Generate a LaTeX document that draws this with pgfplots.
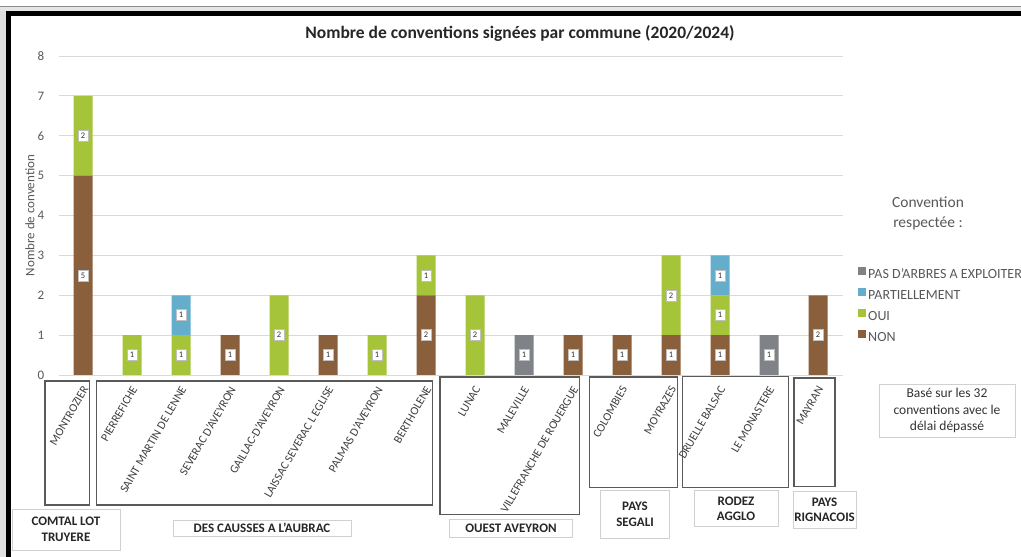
\documentclass[border=0pt]{standalone}
\usepackage{pgfplots}
\pgfplotsset{compat=1.18}
\usepackage{fontspec}
\setmainfont{Carlito}
\definecolor{cNON}{HTML}{8A5F3B}
\definecolor{cOUI}{HTML}{A5C439}
\definecolor{cPART}{HTML}{65AECB}
\definecolor{cPAS}{HTML}{7F8286}
\definecolor{txt}{HTML}{595959}
\definecolor{gridc}{HTML}{D9D9D9}
\definecolor{boxd}{HTML}{5A5A5A}
\definecolor{boxl}{HTML}{D0D0D0}
\newcommand\fs[2]{\fontsize{#1}{#2}\selectfont}
\begin{document}
\begin{tikzpicture}
\useasboundingbox (0pt,0pt) rectangle (1021pt,557pt);
\fill[white] (0pt,0pt) rectangle (1021pt,557pt);
% screen frame
\fill[black!12] (0pt,0pt) rectangle (6pt,546pt);
\fill[black!10] (0pt,546pt) rectangle (1021pt,550pt);
\draw[black!45, line width=1pt] (0pt,550pt) -- (1021pt,550pt);
\fill[black] (6pt,0pt) rectangle (11pt,546pt);
\fill[black] (6pt,541pt) rectangle (1021pt,546pt);

\begin{axis}[
  at={(58.5pt,182pt)}, anchor=south west,
  scale only axis, width=784pt, height=319pt,
  xmin=-0.5, xmax=15.5, ymin=0, ymax=8,
  ybar stacked, bar width=19pt,
  axis line style={draw=none},
  major tick length=0pt,
  ytick={0,...,8},
  ymajorgrids, grid style={gridc, line width=0.9pt},
  yticklabel style={font=\fs{13}{15}, text=txt, anchor=east, inner sep=0pt, xshift=-14pt},
  /pgf/number format/assume math mode=true,
  xtick={0,...,15},
  xticklabels={MONTROZIER, PIERREFICHE, SAINT MARTIN DE LENNE, SEVERAC D'AVEYRON, GAILLAC-D'AVEYRON, LAISSAC SEVERAC L EGLISE, PALMAS D'AVEYRON, BERTHOLENE, LUNAC, MALEVILLE, VILLEFRANCHE DE ROUERGUE, COLOMBIES, MOYRAZES, DRUELLE BALSAC, LE MONASTERE, MAYRAN},
  xticklabel style={xshift=-1pt, yshift=-10pt, rotate=60, anchor=north east, inner sep=0pt, font=\fs{11.8}{13}, text=black!75},
  ylabel={Nombre de convention},
  every axis y label/.style={at={(axis description cs:-0.0364,0.5)}, rotate=90, anchor=center, font=\fs{13}{15}, text=txt},
  reverse legend,
  legend style={draw=none, fill=none, at={(axis description cs:1.0198,0.341)}, anchor=north west, font=\fs{14}{16}, text=txt, row sep=6.3pt, inner sep=0pt, cells={anchor=west}},
  legend image code/.code={\fill[#1] (0pt,-0.5pt) rectangle (8pt,7.5pt);},
  clip=false,
]
\addplot[fill=cNON, draw=none] coordinates {(0,5) (1,0) (2,0) (3,1) (4,0) (5,1) (6,0) (7,2) (8,0) (9,0) (10,1) (11,1) (12,1) (13,1) (14,0) (15,2)};
\addlegendentry{NON}
\addplot[fill=cOUI, draw=none] coordinates {(0,2) (1,1) (2,1) (3,0) (4,2) (5,0) (6,1) (7,1) (8,2) (9,0) (10,0) (11,0) (12,2) (13,1) (14,0) (15,0)};
\addlegendentry{OUI}
\addplot[fill=cPART, draw=none] coordinates {(0,0) (1,0) (2,1) (3,0) (4,0) (5,0) (6,0) (7,0) (8,0) (9,0) (10,0) (11,0) (12,0) (13,1) (14,0) (15,0)};
\addlegendentry{PARTIELLEMENT}
\addplot[fill=cPAS, draw=none] coordinates {(0,0) (1,0) (2,0) (3,0) (4,0) (5,0) (6,0) (7,0) (8,0) (9,1) (10,0) (11,0) (12,0) (13,0) (14,1) (15,0)};
\addlegendentry{PAS D'ARBRES A EXPLOITER}
\end{axis}

\begin{axis}[
  at={(58.5pt,182pt)}, anchor=south west,
  scale only axis, width=784pt, height=319pt,
  xmin=-0.5, xmax=15.5, ymin=0, ymax=8,
  hide axis, clip=false,
  nodes near coords, point meta=explicit symbolic,
  nodes near coords align={anchor=center},
  every node near coord/.style={anchor=center, fill=white, draw=black!25, line width=0.4pt, inner sep=0pt, font=\fs{8.5}{9}, text=black!80, minimum width=9.5pt, minimum height=11pt},
]
\addplot[only marks, mark=none] coordinates {
(0,2.5)[5] (0,6)[2]
(1,0.5)[1]
(2,0.5)[1] (2,1.5)[1]
(3,0.5)[1]
(4,1)[2]
(5,0.5)[1]
(6,0.5)[1]
(7,1)[2] (7,2.5)[1]
(8,1)[2]
(9,0.5)[1]
(10,0.5)[1]
(11,0.5)[1]
(12,0.5)[1] (12,2)[2]
(13,0.5)[1] (13,1.5)[1] (13,2.5)[1]
(14,0.5)[1]
(15,1)[2]
};
\end{axis}

% title
\node[font=\bfseries\fs{17.5}{20}, text=black!85] at (520pt,524pt) {Nombre de conventions signées par commune (2020/2024)};
% legend title
\node[font=\fs{15.5}{20}, text=txt, align=center] at (928pt,344pt) {Convention\\respectée :};

% label group boxes
\begin{scope}[draw=boxd, line width=1.2pt]
\draw (45pt,176pt) rectangle (89.3pt,52pt);
\draw (96.7pt,176pt) rectangle (432.7pt,52pt);
\draw (440pt,180pt) rectangle (579.3pt,42.7pt);
\draw (589.3pt,180pt) rectangle (677.3pt,69.7pt);
\draw (682.7pt,180.3pt) rectangle (788.3pt,69.7pt);
\draw (794pt,179pt) rectangle (835pt,70.3pt);
\end{scope}

% group name boxes
\begin{scope}[every node/.style={font=\bfseries\fs{13}{15.5}, text=black!85, align=center}]
\filldraw[fill=white, draw=boxl, line width=0.9pt] (12pt,48pt) rectangle (120pt,7pt);
\node at (66pt,27.5pt) {COMTAL LOT\\TRUYERE};
\filldraw[fill=white, draw=boxl, line width=0.9pt] (173pt,37pt) rectangle (351pt,21pt);
\node at (262pt,29pt) {DES CAUSSES A L'AUBRAC};
\filldraw[fill=white, draw=boxl, line width=0.9pt] (449.3pt,38pt) rectangle (572.7pt,20pt);
\node at (511pt,29pt) {OUEST AVEYRON};
\filldraw[fill=white, draw=boxl, line width=0.9pt] (600.7pt,66.3pt) rectangle (669.3pt,19pt);
\node at (635pt,42.6pt) {PAYS\\SEGALI};
\filldraw[fill=white, draw=boxl, line width=0.9pt] (694pt,66.3pt) rectangle (778.3pt,30.3pt);
\node at (736pt,48.3pt) {RODEZ\\AGGLO};
\filldraw[fill=white, draw=boxl, line width=0.9pt] (793.3pt,65.3pt) rectangle (856pt,29pt);
\node at (824.6pt,47.2pt) {PAYS\\RIGNACOIS};
\end{scope}

% note box
\filldraw[fill=white, draw=boxl, line width=0.9pt] (879pt,173pt) rectangle (1015pt,120pt);
\node[font=\fs{13.5}{16.5}, text=black!80, align=center] at (947pt,146.5pt) {Basé sur les 32\\conventions avec le\\délai dépassé};
\end{tikzpicture}
\end{document}
